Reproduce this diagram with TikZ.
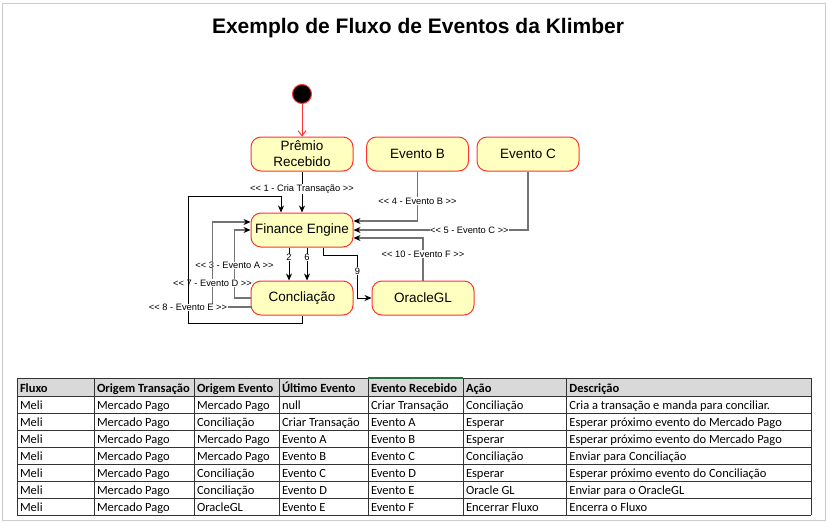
\documentclass[tikz,border=0pt]{standalone}
\usepackage{fontspec}
\setmainfont{Liberation Sans}
\newfontfamily\calibri{Carlito}
\usetikzlibrary{positioning,arrows.meta,calc}
\definecolor{stfill}{HTML}{FFFFC0}
\definecolor{stline}{HTML}{FF3333}
\definecolor{hdrgray}{HTML}{D9D9D9}
\definecolor{xlgreen}{HTML}{217346}

\begin{document}
\begin{tikzpicture}[x=1pt, y=-1pt, node distance=76pt, >={Stealth[length=7pt,width=6pt]}]
    \tikzstyle{state}=[draw=stline, fill=stfill, rounded corners=10pt, minimum width=102pt, minimum height=34pt, align=center, line width=1pt, font=\fontsize{13.5}{16}\selectfont]
    \tikzstyle{lbl}=[fill=white, inner sep=0.5pt, font=\fontsize{9.3}{10}\selectfont]
    \tikzstyle{flow}=[->, draw=black, line width=0.8pt]
    \tikzstyle{evt}=[-{Stealth[length=7pt,width=6pt,black]}, draw=black!55, line width=1.3pt]
    \tikzstyle{cell}=[anchor=base west, inner sep=0pt, font=\calibri\fontsize{12.5}{14}\selectfont]
    \tikzstyle{hcell}=[cell, font=\calibri\bfseries\fontsize{12.5}{14}\selectfont]
    \useasboundingbox (0,0) rectangle (827,522);
    \draw[black!20, line width=1pt, fill=white] (2.5,3) rectangle (825.5,520);

    \node (title) at (418,28) {\fontsize{21}{24}\selectfont\bfseries Exemplo de Fluxo de Eventos da Klimber};

    % states
    \node (fe) [state] at (302,230) {Finance Engine};
    \node (premio) [state][above of=fe] {Prêmio\\Recebido};
    \node (evB) [state][right of=premio, node distance=115.5pt] {Evento B};
    \node (evC) [state][right of=evB, node distance=110.5pt] {Evento C};
    \node (concl) [state][below of=fe, node distance=68pt] {Concliação};
    \node (oracle) [state][right of=concl, node distance=121pt] {OracleGL};
    \node (start) [circle, fill=black, draw=stline, line width=1pt, minimum size=19pt, inner sep=0pt][above of=premio, node distance=60pt] {};

    \draw [-{Straight Barb[length=5pt,width=8pt]}, stline, line width=1pt] (start) -- (premio);
    \draw [flow] (premio) -- node[lbl, pos=0.42] {<{}< 1 - Cria Transação >{}>} (fe);
    \draw [flow] ($(fe.south)+(-13,0)$) -- node[lbl, pos=0.3] {2} ($(concl.north)+(-13,0)$);
    \draw [flow] ($(fe.south)+(5,0)$) -- node[lbl, pos=0.3] {6} ($(concl.north)+(5,0)$);
    \draw [evt] (concl.west) -- ++(-16,0) |- node[lbl, pos=0.24] {<{}< 3 - Evento A >{}>} (fe.west);
    \draw [evt] ($(concl.west)+(0,9)$) -- ++(-38,0) |- node[lbl, pos=0.14] {<{}< 7 - Evento D >{}>} ($(fe.west)+(0,-8)$);
    \draw [flow] (concl.south) -- ++(0,8) -| node[lbl, pos=0.563] {<{}< 8 - Evento E >{}>} (188,196) -| ($(fe.north)+(-21,0)$);
    \draw [flow] ($(fe.south)+(21,0)$) -- ++(0,8) -| node[lbl, pos=0.68] {9} ($(oracle.west)+(-14,0)$) -- (oracle.west);
    \draw [evt] (evB.south) |- node[lbl, pos=0.3] {<{}< 4 - Evento B >{}>} ($(fe.east)+(0,-9)$);
    \draw [evt] (evC.south) |- node[lbl, pos=0.668] {<{}< 5 - Evento C >{}>} (fe.east);
    \draw [evt] (oracle.north) |- node[lbl, pos=0.31] {<{}< 10 - Evento F >{}>} ($(fe.east)+(0,8)$);

    % table
    \fill [hdrgray] (17.3,378) rectangle (811,396);
    \foreach \y in {378,396,413,430,447,464,481,498,515}
        \draw [black!80, line width=0.8pt] (17.3,\y) -- (811,\y);
    \foreach \x in {17.3,94.3,194.3,279.3,368.3,463.3,566.7,811}
        \draw [black!80, line width=0.8pt] (\x,378) -- (\x,515);
    \draw [xlgreen, line width=1.5pt] (368.3,378) -- (463.3,378);
    \foreach \h [count=\c] in {Fluxo,Origem Transação,Origem Evento,Último Evento,Evento Recebido,Ação,Descrição} {
        \pgfmathsetmacro\cx{{17.3,94.3,194.3,279.3,368.3,463.3,566.7}[\c-1]+2.5}
        \node (h\c) [hcell] at (\cx,392) {\h};
    }
    \foreach \row [count=\r] in {
        {Meli,Mercado Pago,Mercado Pago,null,Criar Transação,Conciliação,Cria a transação e manda para conciliar.},
        {Meli,Mercado Pago,Conciliação,Criar Transação,Evento A,Esperar,Esperar próximo evento do Mercado Pago},
        {Meli,Mercado Pago,Mercado Pago,Evento A,Evento B,Esperar,Esperar próximo evento do Mercado Pago},
        {Meli,Mercado Pago,Mercado Pago,Evento B,Evento C,Conciliação,Enviar para Conciliação},
        {Meli,Mercado Pago,Conciliação,Evento C,Evento D,Esperar,Esperar próximo evento do Conciliação},
        {Meli,Mercado Pago,Conciliação,Evento D,Evento E,Oracle GL,Enviar para o OracleGL},
        {Meli,Mercado Pago,OracleGL,Evento E,Evento F,Encerrar Fluxo,Encerra o Fluxo}}
        \foreach \v [count=\c] in \row {
            \pgfmathsetmacro\cx{{17.3,94.3,194.3,279.3,368.3,463.3,566.7}[\c-1]+2.5}
            \pgfmathsetmacro\cy{392+17*\r}
            \node (c\r-\c) [cell] at (\cx,\cy) {\v};
        }
\end{tikzpicture}
\end{document}
